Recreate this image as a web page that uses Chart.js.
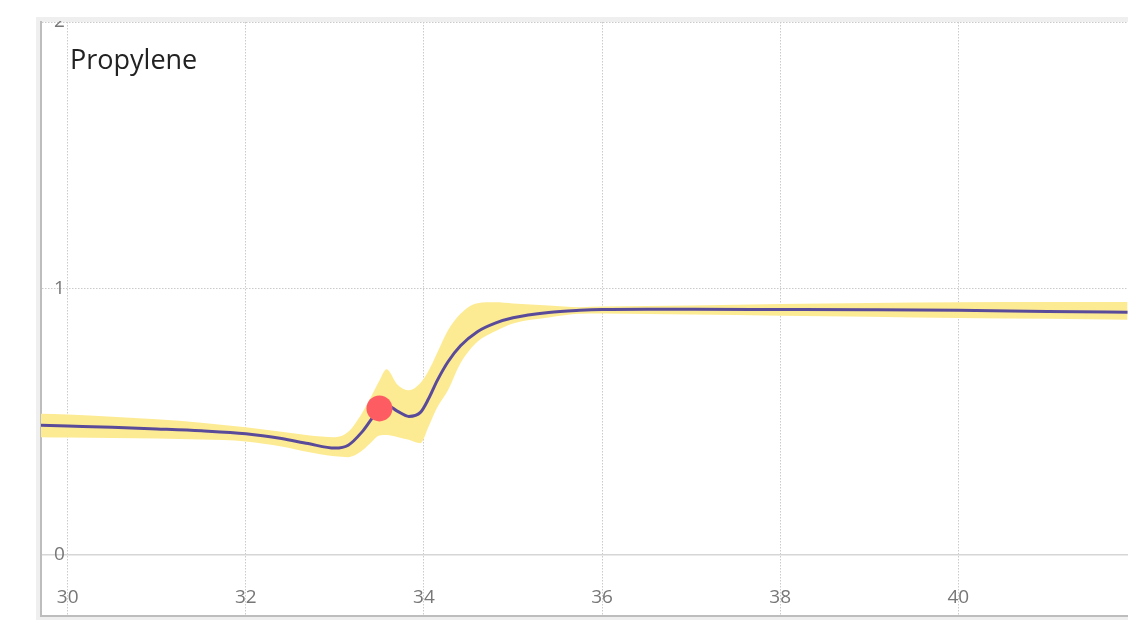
<!DOCTYPE html>
<html>
<head>
<meta charset="utf-8">
<script src="https://cdn.jsdelivr.net/npm/chart.js@4.4.1/dist/chart.umd.min.js"></script>
<style>
  html, body { margin: 0; padding: 0; background: #ffffff; }
  #wrap { width: 1128px; height: 633px; }
</style>
</head>
<body>
<div id="wrap"><canvas id="c" width="1128" height="633"></canvas></div>
<script>
// Series label and axis ticks
const chartTitle = 'Propylene';
const xTicks = [30, 32, 34, 36, 38, 40];
const yTicks = [0, 1, 2];

// Sample positions along x
const xs = [29.7, 30, 30.5, 31, 31.5, 32, 32.4, 32.7, 33.0, 33.15, 33.3, 33.4, 33.5, 33.58, 33.7, 33.83,
            33.96, 34.05, 34.15, 34.27, 34.41, 34.6, 34.8, 35.0, 35.4, 35.75, 36.0, 36.5, 37, 38, 39, 40, 41, 41.9];

// Mean curve
const meanValues = [0.487, 0.484, 0.479, 0.473, 0.466, 0.455, 0.437, 0.418, 0.401, 0.412, 0.460, 0.505, 0.550, 0.562, 0.540, 0.520,
                    0.535, 0.585, 0.655, 0.725, 0.785, 0.838, 0.870, 0.890, 0.910, 0.918, 0.921, 0.922, 0.922, 0.921, 0.920, 0.918, 0.914, 0.911];

// Upper edge of the uncertainty band
const upperValues = [0.530, 0.527, 0.519, 0.509, 0.496, 0.479, 0.462, 0.449, 0.442, 0.462, 0.530, 0.590, 0.655, 0.697, 0.640, 0.618,
                     0.645, 0.690, 0.760, 0.843, 0.905, 0.945, 0.948, 0.944, 0.936, 0.930, 0.932, 0.934, 0.936, 0.942, 0.946, 0.948, 0.949, 0.949];

// Lower edge of the uncertainty band
const lowerValues = [0.442, 0.441, 0.439, 0.437, 0.433, 0.426, 0.407, 0.386, 0.370, 0.367, 0.390, 0.420, 0.448, 0.450, 0.443, 0.432,
                     0.419, 0.480, 0.554, 0.618, 0.719, 0.800, 0.840, 0.869, 0.891, 0.905, 0.906, 0.904, 0.902, 0.898, 0.894, 0.889, 0.886, 0.883];

// Highlighted observation
const markerX = [33.5];
const markerY = [0.55];

const frameGray = '#efefef';
const gridGray = '#cacaca';
const axisGray = '#bdbdbd';

const toPoints = (vals) => xs.map((x, i) => ({ x: x, y: vals[i] }));

const framePlugin = {
  id: 'frame',
  beforeDraw(chart) {
    const { ctx, chartArea: a } = chart;
    ctx.save();
    ctx.fillStyle = '#ffffff';
    ctx.fillRect(0, 0, chart.width, chart.height);
    ctx.fillStyle = frameGray;
    ctx.fillRect(36, 17, chart.width - 36, 603);
    ctx.fillStyle = '#ffffff';
    ctx.fillRect(a.left, a.top, a.right - a.left, a.bottom - a.top);
    ctx.restore();
  },
  afterDraw(chart) {
    const { ctx } = chart;
    ctx.save();
    // trim the panel's top edge
    ctx.fillStyle = '#ffffff';
    ctx.fillRect(0, 0, chart.width, 17);
    ctx.fillStyle = frameGray;
    ctx.fillRect(36, 17, chart.width - 36, 4);
    // series label
    ctx.fillStyle = '#222222';
    ctx.font = "27px 'Open Sans', sans-serif";
    ctx.textBaseline = 'alphabetic';
    ctx.textAlign = 'left';
    ctx.fillText(chartTitle, 70, 69);
    ctx.restore();
  }
};

Chart.defaults.font.family = "'Open Sans', sans-serif";

new Chart(document.getElementById('c'), {
  type: 'line',
  data: {
    datasets: [
      {
        label: 'upper',
        data: toPoints(upperValues),
        order: 3,
        borderWidth: 0,
        borderColor: 'rgba(0,0,0,0)',
        backgroundColor: '#fdeb94',
        pointRadius: 0,
        fill: '+1',
        cubicInterpolationMode: 'monotone'
      },
      {
        label: 'lower',
        data: toPoints(lowerValues),
        order: 3,
        borderWidth: 0,
        borderColor: 'rgba(0,0,0,0)',
        backgroundColor: '#fdeb94',
        pointRadius: 0,
        fill: false,
        cubicInterpolationMode: 'monotone'
      },
      {
        label: 'mean',
        data: toPoints(meanValues),
        order: 1,
        borderWidth: 3,
        borderColor: '#5a4a9a',
        pointRadius: 0,
        fill: false,
        cubicInterpolationMode: 'monotone'
      },
      {
        type: 'scatter',
        label: 'marker',
        data: markerX.map((x, i) => ({ x: x, y: markerY[i] })),
        order: 0,
        pointRadius: 13,
        pointHoverRadius: 13,
        borderWidth: 0,
        backgroundColor: '#fd5c63'
      }
    ]
  },
  options: {
    responsive: false,
    devicePixelRatio: 1,
    animation: false,
    events: [],
    layout: { autoPadding: false, padding: { left: 36, top: 22, right: 0, bottom: 13 } },
    plugins: { legend: { display: false }, tooltip: { enabled: false }, title: { display: false } },
    scales: {
      x: {
        type: 'linear',
        min: 29.7,
        max: 41.905,
        afterBuildTicks: (s) => { s.ticks = xTicks.map(v => ({ value: v })); },
        afterFit: (s) => { s.height = 4; s.paddingLeft = 0; s.paddingRight = 0; },
        grid: { color: gridGray, lineWidth: 1, drawTicks: false },
        border: { display: true, color: axisGray, width: 2, dash: [1.5, 1.5] },
        ticks: {
          autoSkip: false, maxRotation: 0, mirror: true, padding: 7,
          color: '#777777', font: { size: 19 },
          callback: (v) => String(v)
        }
      },
      y: {
        type: 'linear',
        min: -0.229,
        max: 2,
        afterBuildTicks: (s) => { s.ticks = yTicks.map(v => ({ value: v })); },
        afterFit: (s) => { s.width = 5; s.paddingTop = 0; s.paddingBottom = 0; },
        grid: {
          color: (c) => (c.tick && c.tick.value === 0) ? '#d6d6d6' : gridGray,
          lineWidth: (c) => (c.tick && c.tick.value === 0) ? 1.5 : 1,
          drawTicks: false
        },
        border: {
          display: true, color: axisGray, width: 2,
          dash: (c) => (c.tick && c.tick.value === 0) ? [] : [1.5, 1.5]
        },
        ticks: {
          mirror: true, padding: 13,
          color: '#777777', font: { size: 19 },
          callback: (v) => String(v)
        }
      }
    }
  },
  plugins: [framePlugin]
});
</script>
</body>
</html>
